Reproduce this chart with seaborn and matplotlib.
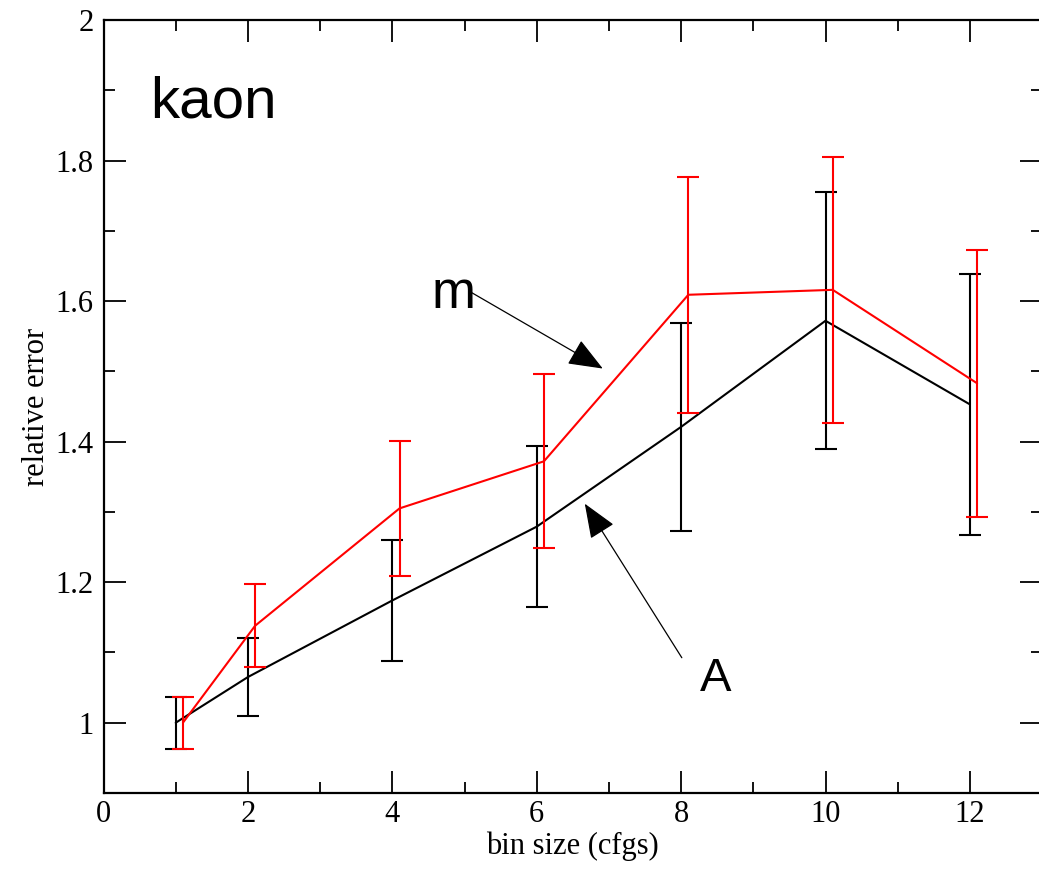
import matplotlib
matplotlib.use("Agg")
import matplotlib.pyplot as plt
from matplotlib.ticker import MultipleLocator, FuncFormatter
import numpy as np
import pandas as pd
import seaborn as sns

# ---- data ----
bin_sizes = [1, 2, 4, 6, 8, 10, 12]
A_values = [1.000, 1.065, 1.174, 1.279, 1.421, 1.572, 1.453]
A_errors = [0.037, 0.055, 0.086, 0.115, 0.148, 0.183, 0.186]
m_values = [1.000, 1.138, 1.305, 1.372, 1.609, 1.616, 1.483]
m_errors = [0.037, 0.059, 0.096, 0.124, 0.168, 0.189, 0.190]
m_offset = 0.1  # horizontal shift of the m series

sns.set_style("ticks")
plt.rcParams["font.family"] = ["Liberation Serif", "DejaVu Serif"]
plt.rcParams["text.color"] = "black"
plt.rcParams["axes.labelcolor"] = "black"
plt.rcParams["xtick.color"] = "black"
plt.rcParams["ytick.color"] = "black"

df = pd.DataFrame({
    "bin": bin_sizes + [b + m_offset for b in bin_sizes],
    "value": A_values + m_values,
    "series": ["A"] * len(bin_sizes) + ["m"] * len(bin_sizes),
})

fig = plt.figure(figsize=(10.39, 8.69), dpi=100)
ax = fig.add_axes([103.5 / 1039, 76 / 869, 938.6 / 1039, 773 / 869])

palette = {"A": "black", "m": "#ff0000"}
sns.lineplot(data=df, x="bin", y="value", hue="series", palette=palette,
             linewidth=1.5, legend=False, ax=ax, sort=False, zorder=3)

ax.errorbar(bin_sizes, A_values, yerr=A_errors, fmt="none", ecolor="black",
            elinewidth=1.5, capsize=8, capthick=1.5, zorder=2)
ax.errorbar([b + m_offset for b in bin_sizes], m_values, yerr=m_errors,
            fmt="none", ecolor="#ff0000", elinewidth=1.5, capsize=8,
            capthick=1.5, zorder=4)

ax.set_xlim(0, 13)
ax.set_ylim(0.9, 2.0)
ax.xaxis.set_major_locator(MultipleLocator(2))
ax.xaxis.set_minor_locator(MultipleLocator(1))
ax.yaxis.set_major_locator(MultipleLocator(0.2))
ax.yaxis.set_minor_locator(MultipleLocator(0.1))
ax.yaxis.set_major_formatter(FuncFormatter(lambda v, p: f"{v:g}"))

for s in ax.spines.values():
    s.set_visible(True)
    s.set_linewidth(1.6)
    s.set_color("black")

ax.tick_params(which="both", direction="in", top=True, right=True,
               colors="black", labelcolor="black", width=1.3)
ax.tick_params(which="major", length=16, labelsize=22)
ax.tick_params(which="minor", length=8)
ax.tick_params(axis="x", which="major", pad=5)
ax.tick_params(axis="y", which="major", pad=7)

ax.set_xlabel("bin size (cfgs)", fontsize=22, labelpad=2, color="black")
ax.set_ylabel("relative error", fontsize=22, labelpad=3, color="black")

sans = ["Liberation Sans", "DejaVu Sans"]
ax.text(0.64, 1.861, "kaon", fontsize=42, family=sans, color="black",
        ha="left", va="baseline")
ax.text(4.55, 1.5906, "m", fontsize=38, family=sans, color="black",
        ha="left", va="baseline")
ax.text(8.26, 1.0455, "A", fontsize=34, family=sans, color="black",
        ha="left", va="baseline")

arrow_style = "-|>,head_length=1.45,head_width=0.58"
ax.annotate("", xy=(6.915, 1.504), xytext=(5.10, 1.612),
            arrowprops=dict(arrowstyle=arrow_style, mutation_scale=15,
                            color="black", lw=0.9, shrinkA=0, shrinkB=0))
ax.annotate("", xy=(6.666, 1.3117), xytext=(8.01, 1.0925),
            arrowprops=dict(arrowstyle=arrow_style, mutation_scale=15,
                            color="black", lw=0.9, shrinkA=0, shrinkB=0))

fig.savefig("out.png", dpi=100)
